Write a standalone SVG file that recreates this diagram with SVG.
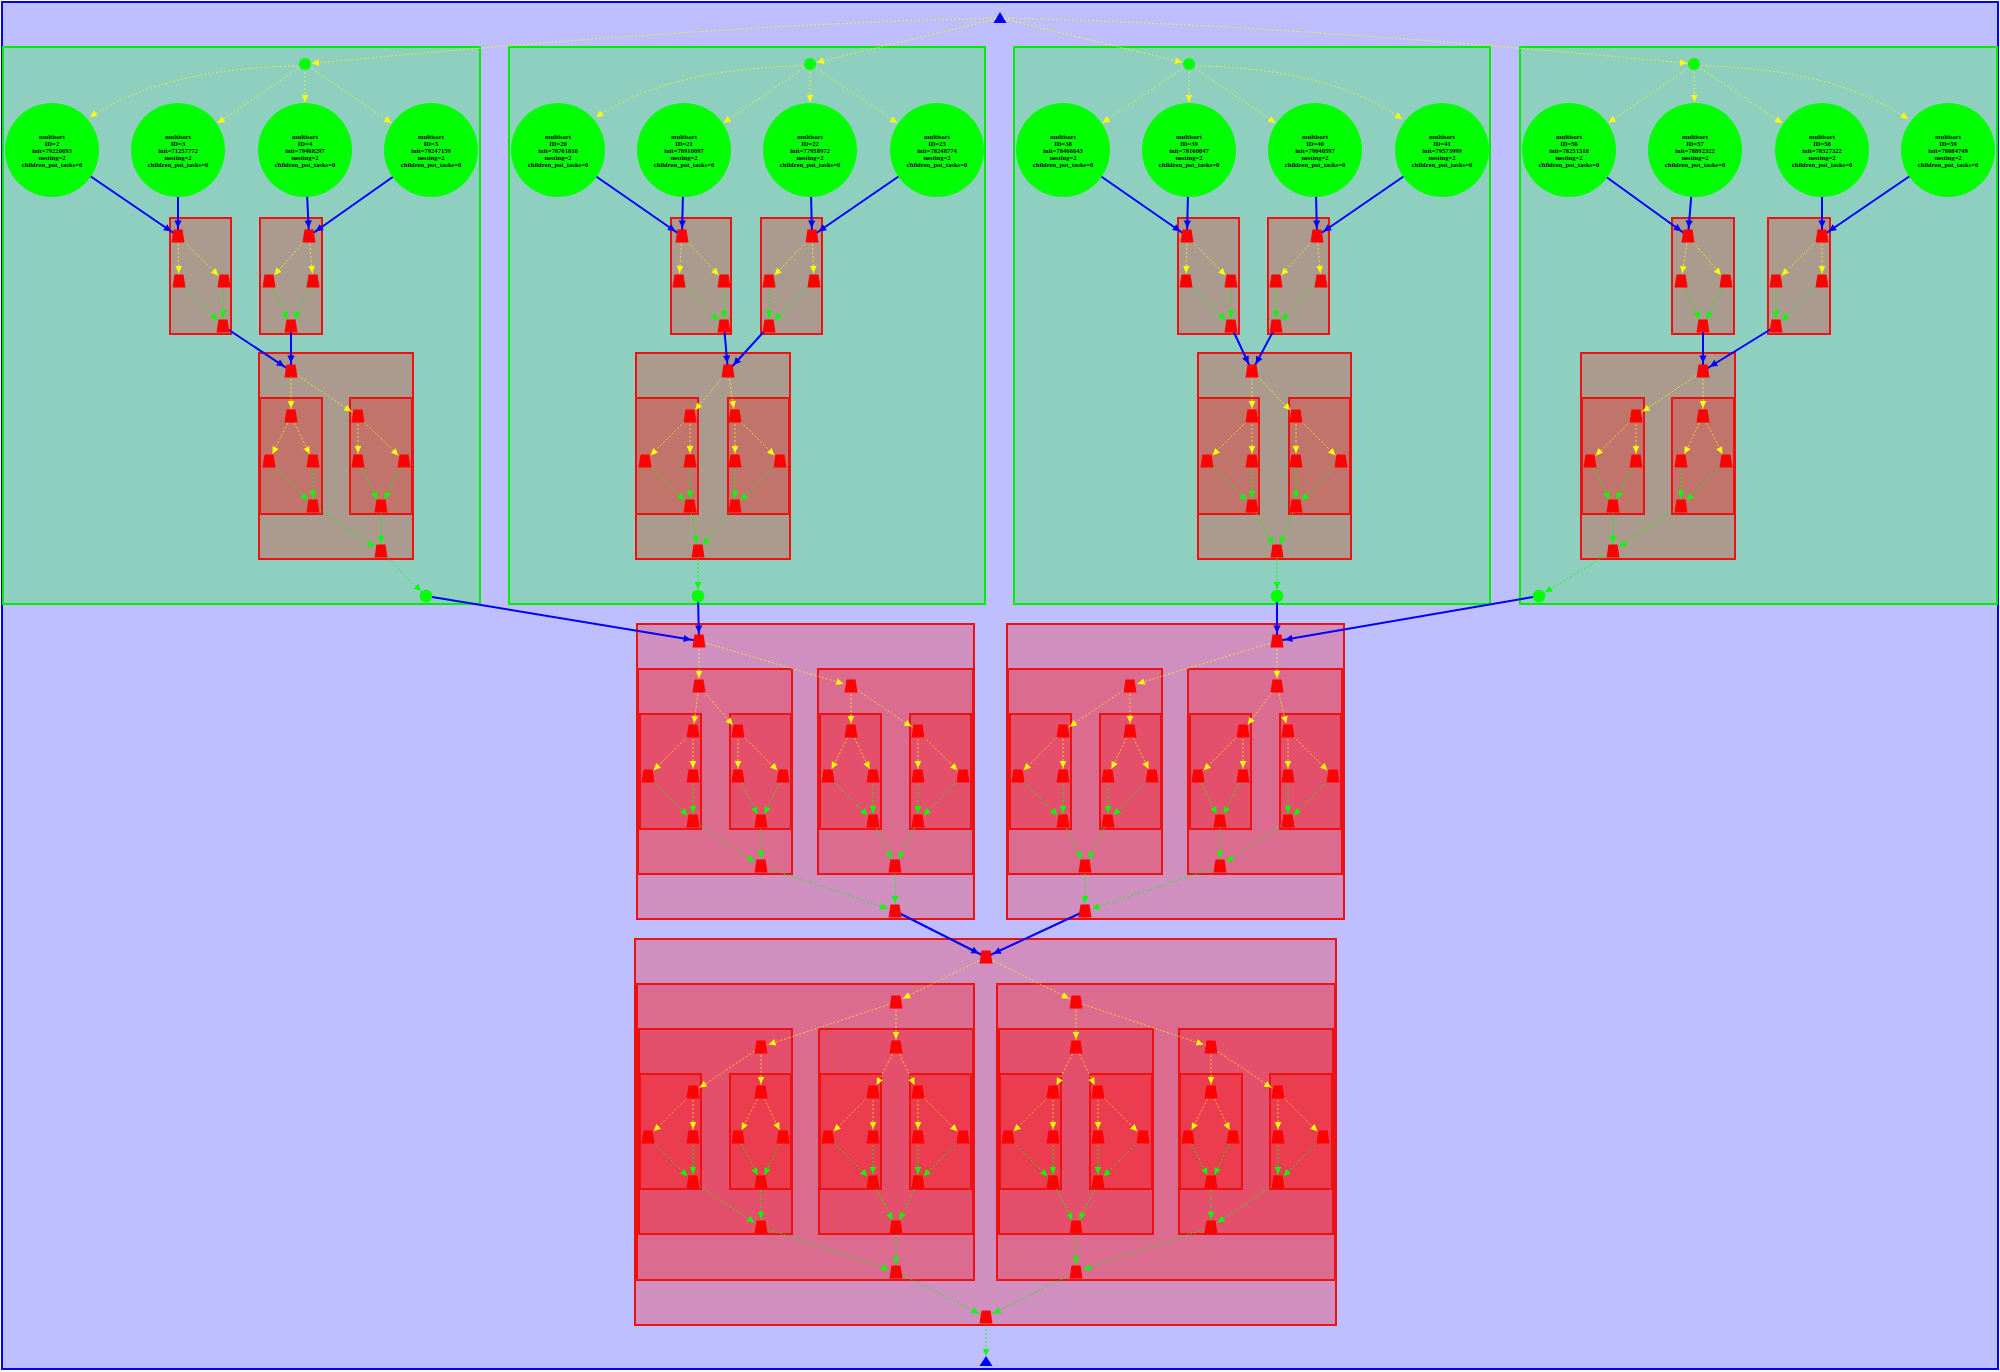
<svg xmlns="http://www.w3.org/2000/svg" xmlns:xlink="http://www.w3.org/1999/xlink" width="2000" height="1372" viewBox="0 0 2000 1372">
<style>
.cg{fill:#00ff00;fill-opacity:.25;stroke:#00ee00;stroke-width:2}
.cr{fill:#ff0000;fill-opacity:.25;stroke:#ee1111;stroke-width:2}
.ey{stroke:#ffff00;stroke-opacity:.7;stroke-width:1;stroke-dasharray:2,2;fill:none;marker-end:url(#my)}
.ey0{stroke:#ffff00;stroke-opacity:.7;stroke-width:1;stroke-dasharray:2,2;fill:none;marker-end:url(#my0)}
.eyc{stroke:#ffff00;stroke-opacity:.7;stroke-width:1;stroke-dasharray:2,2;fill:none;marker-end:url(#my48)}
.eyb{stroke:#ffff00;stroke-opacity:.7;stroke-width:1;stroke-dasharray:2,2;fill:none;marker-end:url(#my7)}
.eg{stroke:#00ff00;stroke-opacity:.85;stroke-width:1;stroke-dasharray:2,2;fill:none;marker-end:url(#mg)}
.egb{stroke:#00ff00;stroke-opacity:.85;stroke-width:1;stroke-dasharray:2,2;fill:none;marker-end:url(#mg7)}
.eg0{stroke:#00ff00;stroke-opacity:.85;stroke-width:1;stroke-dasharray:2,2;fill:none;marker-end:url(#mg0)}
.eb{stroke:#0000ff;stroke-width:2;fill:none;marker-end:url(#mb)}
.ball{fill:#00ff00}
.big{fill:#00ff00}
.ct{font-family:"Liberation Serif","Times New Roman",serif;font-size:6.6px;font-weight:bold;text-anchor:middle;fill:#000}
</style>
<defs>
<polygon id="tz" points="-4.5,-6.5 4.5,-6.5 6.5,6.5 -6.5,6.5" fill="#ff0000"/>
<marker id="my" markerUnits="userSpaceOnUse" markerWidth="1" markerHeight="1" orient="auto" overflow="visible" style="overflow:visible"><path d="M-15,-3.3 L-8,0 L-15,3.3 Z" fill="#ffff00"/></marker>
<marker id="my0" markerUnits="userSpaceOnUse" markerWidth="1" markerHeight="1" orient="auto" overflow="visible" style="overflow:visible"><path d="M-7,-3.3 L0,0 L-7,3.3 Z" fill="#ffff00"/></marker>
<marker id="my7" markerUnits="userSpaceOnUse" markerWidth="1" markerHeight="1" orient="auto" overflow="visible" style="overflow:visible"><path d="M-14,-3.3 L-7,0 L-14,3.3 Z" fill="#ffff00"/></marker>
<marker id="my48" markerUnits="userSpaceOnUse" markerWidth="1" markerHeight="1" orient="auto" overflow="visible" style="overflow:visible"><path d="M-55,-3.3 L-48,0 L-55,3.3 Z" fill="#ffff00"/></marker>
<marker id="mg" markerUnits="userSpaceOnUse" markerWidth="1" markerHeight="1" orient="auto" overflow="visible" style="overflow:visible"><path d="M-15,-3.3 L-8,0 L-15,3.3 Z" fill="#00ff00"/></marker>
<marker id="mg7" markerUnits="userSpaceOnUse" markerWidth="1" markerHeight="1" orient="auto" overflow="visible" style="overflow:visible"><path d="M-14,-3.3 L-7,0 L-14,3.3 Z" fill="#00ff00"/></marker>
<marker id="mg0" markerUnits="userSpaceOnUse" markerWidth="1" markerHeight="1" orient="auto" overflow="visible" style="overflow:visible"><path d="M-7,-3.3 L0,0 L-7,3.3 Z" fill="#00ff00"/></marker>
<marker id="mb" markerUnits="userSpaceOnUse" markerWidth="1" markerHeight="1" orient="auto" overflow="visible" style="overflow:visible"><path d="M-15.5,-3.6 L-8,0 L-15.5,3.6 Z" fill="#0000ff"/></marker>
</defs>
<rect x="2" y="2" width="1996" height="1367" fill="#bfbfff" stroke="#0000ff" stroke-width="2"/>
<g id="clusters">
<rect class="cg" x="3" y="47" width="477" height="557"/>
<rect class="cg" x="509" y="47" width="476" height="557"/>
<rect class="cg" x="1014" y="47" width="476" height="557"/>
<rect class="cg" x="1520" y="47" width="477" height="557"/>
<rect class="cr" x="170" y="218" width="61" height="116"/>
<rect class="cr" x="260" y="218" width="62" height="116"/>
<rect class="cr" x="259" y="353" width="154" height="206"/>
<rect class="cr" x="260" y="398" width="62" height="116"/>
<rect class="cr" x="350" y="398" width="62" height="116"/>
<rect class="cr" x="671" y="218" width="60" height="116"/>
<rect class="cr" x="761" y="218" width="61" height="116"/>
<rect class="cr" x="636" y="353" width="154" height="206"/>
<rect class="cr" x="636" y="398" width="62" height="116"/>
<rect class="cr" x="728" y="398" width="61" height="116"/>
<rect class="cr" x="1178" y="218" width="61" height="116"/>
<rect class="cr" x="1268" y="218" width="61" height="116"/>
<rect class="cr" x="1198" y="353" width="153" height="206"/>
<rect class="cr" x="1198" y="398" width="61" height="116"/>
<rect class="cr" x="1289" y="398" width="61" height="116"/>
<rect class="cr" x="1672" y="218" width="62" height="116"/>
<rect class="cr" x="1768" y="218" width="62" height="116"/>
<rect class="cr" x="1581" y="353" width="154" height="206"/>
<rect class="cr" x="1582" y="398" width="62" height="116"/>
<rect class="cr" x="1672" y="398" width="62" height="116"/>
<rect class="cr" x="637" y="624" width="337" height="295"/>
<rect class="cr" x="638" y="669" width="154" height="205"/>
<rect class="cr" x="640" y="714" width="61" height="115"/>
<rect class="cr" x="730" y="714" width="61" height="115"/>
<rect class="cr" x="818" y="669" width="155" height="205"/>
<rect class="cr" x="820" y="714" width="61" height="115"/>
<rect class="cr" x="910" y="714" width="61" height="115"/>
<rect class="cr" x="1007" y="624" width="337" height="295"/>
<rect class="cr" x="1008" y="669" width="154" height="205"/>
<rect class="cr" x="1010" y="714" width="61" height="115"/>
<rect class="cr" x="1100" y="714" width="61" height="115"/>
<rect class="cr" x="1188" y="669" width="154" height="205"/>
<rect class="cr" x="1190" y="714" width="61" height="115"/>
<rect class="cr" x="1280" y="714" width="61" height="115"/>
<rect class="cr" x="635" y="939" width="701" height="386"/>
<rect class="cr" x="637" y="984" width="337" height="296"/>
<rect class="cr" x="639" y="1029" width="153" height="205"/>
<rect class="cr" x="640" y="1074" width="61" height="115"/>
<rect class="cr" x="730" y="1074" width="61" height="115"/>
<rect class="cr" x="819" y="1029" width="154" height="205"/>
<rect class="cr" x="820" y="1074" width="61" height="115"/>
<rect class="cr" x="910" y="1074" width="61" height="115"/>
<rect class="cr" x="997" y="984" width="338" height="296"/>
<rect class="cr" x="999" y="1029" width="154" height="205"/>
<rect class="cr" x="1000" y="1074" width="61" height="115"/>
<rect class="cr" x="1090" y="1074" width="62" height="115"/>
<rect class="cr" x="1179" y="1029" width="154" height="205"/>
<rect class="cr" x="1180" y="1074" width="62" height="115"/>
<rect class="cr" x="1270" y="1074" width="62" height="115"/>
</g>
<g id="connectors">
<path class="eyb" d="M1000,18 Q720,24 305,64"/>
<line class="eyb" x1="1000" y1="18" x2="810" y2="64"/>
<line class="eyb" x1="1000" y1="18" x2="1189" y2="64"/>
<path class="eyb" d="M1000,18 Q1280,24 1694,64"/>
<path class="ey0" d="M298,66 Q166,68 90,117"/>
<line class="eyc" x1="305" y1="64" x2="178" y2="150"/>
<line class="eyc" x1="305" y1="64" x2="305" y2="150"/>
<line class="eyc" x1="305" y1="64" x2="431" y2="150"/>
<line class="eb" x1="52" y1="150" x2="178" y2="236"/>
<line class="eb" x1="178" y1="150" x2="178" y2="236"/>
<line class="eb" x1="305" y1="150" x2="309" y2="236"/>
<line class="eb" x1="431" y1="150" x2="309" y2="236"/>
<line class="ey" x1="178" y1="236" x2="179" y2="281"/>
<line class="ey" x1="178" y1="236" x2="224" y2="281"/>
<line class="eg" x1="179" y1="281" x2="223" y2="326"/>
<line class="eg" x1="224" y1="281" x2="223" y2="326"/>
<line class="ey" x1="309" y1="236" x2="269" y2="281"/>
<line class="ey" x1="309" y1="236" x2="313" y2="281"/>
<line class="eg" x1="269" y1="281" x2="291" y2="326"/>
<line class="eg" x1="313" y1="281" x2="291" y2="326"/>
<line class="eb" x1="223" y1="326" x2="291" y2="371"/>
<line class="eb" x1="291" y1="326" x2="291" y2="371"/>
<line class="ey" x1="291" y1="371" x2="291" y2="416"/>
<line class="ey" x1="291" y1="371" x2="358" y2="416"/>
<line class="ey" x1="291" y1="416" x2="269" y2="461"/>
<line class="ey" x1="291" y1="416" x2="313" y2="461"/>
<line class="eg" x1="269" y1="461" x2="313" y2="506"/>
<line class="eg" x1="313" y1="461" x2="313" y2="506"/>
<line class="ey" x1="358" y1="416" x2="358" y2="461"/>
<line class="ey" x1="358" y1="416" x2="404" y2="461"/>
<line class="eg" x1="358" y1="461" x2="381" y2="506"/>
<line class="eg" x1="404" y1="461" x2="381" y2="506"/>
<line class="eg" x1="313" y1="506" x2="381" y2="551"/>
<line class="eg" x1="381" y1="506" x2="381" y2="551"/>
<line class="egb" x1="381" y1="551" x2="426" y2="596"/>
<line class="eb" x1="426" y1="596" x2="699" y2="641"/>
<path class="ey0" d="M803,66 Q671,68 596,117"/>
<line class="eyc" x1="810" y1="64" x2="684" y2="150"/>
<line class="eyc" x1="810" y1="64" x2="810" y2="150"/>
<line class="eyc" x1="810" y1="64" x2="937" y2="150"/>
<line class="eb" x1="558" y1="150" x2="682" y2="236"/>
<line class="eb" x1="684" y1="150" x2="682" y2="236"/>
<line class="eb" x1="810" y1="150" x2="812" y2="236"/>
<line class="eb" x1="937" y1="150" x2="812" y2="236"/>
<line class="ey" x1="682" y1="236" x2="679" y2="281"/>
<line class="ey" x1="682" y1="236" x2="724" y2="281"/>
<line class="eg" x1="679" y1="281" x2="724" y2="326"/>
<line class="eg" x1="724" y1="281" x2="724" y2="326"/>
<line class="ey" x1="812" y1="236" x2="769" y2="281"/>
<line class="ey" x1="812" y1="236" x2="814" y2="281"/>
<line class="eg" x1="769" y1="281" x2="769" y2="326"/>
<line class="eg" x1="814" y1="281" x2="769" y2="326"/>
<line class="eb" x1="724" y1="326" x2="728" y2="371"/>
<line class="eb" x1="769" y1="326" x2="728" y2="371"/>
<line class="ey" x1="728" y1="371" x2="690" y2="416"/>
<line class="ey" x1="728" y1="371" x2="735" y2="416"/>
<line class="ey" x1="690" y1="416" x2="645" y2="461"/>
<line class="ey" x1="690" y1="416" x2="690" y2="461"/>
<line class="eg" x1="645" y1="461" x2="690" y2="506"/>
<line class="eg" x1="690" y1="461" x2="690" y2="506"/>
<line class="ey" x1="735" y1="416" x2="735" y2="461"/>
<line class="ey" x1="735" y1="416" x2="780" y2="461"/>
<line class="eg" x1="735" y1="461" x2="735" y2="506"/>
<line class="eg" x1="780" y1="461" x2="735" y2="506"/>
<line class="eg" x1="690" y1="506" x2="698" y2="551"/>
<line class="eg" x1="735" y1="506" x2="698" y2="551"/>
<line class="egb" x1="698" y1="551" x2="698" y2="596"/>
<line class="eb" x1="698" y1="596" x2="699" y2="641"/>
<line class="eyc" x1="1189" y1="64" x2="1063" y2="150"/>
<line class="eyc" x1="1189" y1="64" x2="1189" y2="150"/>
<line class="eyc" x1="1189" y1="64" x2="1315" y2="150"/>
<path class="ey0" d="M1196,66 Q1328,68 1402,119"/>
<line class="eb" x1="1063" y1="150" x2="1187" y2="236"/>
<line class="eb" x1="1189" y1="150" x2="1187" y2="236"/>
<line class="eb" x1="1315" y1="150" x2="1317" y2="236"/>
<line class="eb" x1="1442" y1="150" x2="1317" y2="236"/>
<line class="ey" x1="1187" y1="236" x2="1186" y2="281"/>
<line class="ey" x1="1187" y1="236" x2="1231" y2="281"/>
<line class="eg" x1="1186" y1="281" x2="1231" y2="326"/>
<line class="eg" x1="1231" y1="281" x2="1231" y2="326"/>
<line class="ey" x1="1317" y1="236" x2="1276" y2="281"/>
<line class="ey" x1="1317" y1="236" x2="1321" y2="281"/>
<line class="eg" x1="1276" y1="281" x2="1276" y2="326"/>
<line class="eg" x1="1321" y1="281" x2="1276" y2="326"/>
<line class="eb" x1="1231" y1="326" x2="1252" y2="371"/>
<line class="eb" x1="1276" y1="326" x2="1252" y2="371"/>
<line class="ey" x1="1252" y1="371" x2="1252" y2="416"/>
<line class="ey" x1="1252" y1="371" x2="1296" y2="416"/>
<line class="ey" x1="1252" y1="416" x2="1207" y2="461"/>
<line class="ey" x1="1252" y1="416" x2="1252" y2="461"/>
<line class="eg" x1="1207" y1="461" x2="1252" y2="506"/>
<line class="eg" x1="1252" y1="461" x2="1252" y2="506"/>
<line class="ey" x1="1296" y1="416" x2="1296" y2="461"/>
<line class="ey" x1="1296" y1="416" x2="1341" y2="461"/>
<line class="eg" x1="1296" y1="461" x2="1296" y2="506"/>
<line class="eg" x1="1341" y1="461" x2="1296" y2="506"/>
<line class="eg" x1="1252" y1="506" x2="1277" y2="551"/>
<line class="eg" x1="1296" y1="506" x2="1277" y2="551"/>
<line class="egb" x1="1277" y1="551" x2="1277" y2="596"/>
<line class="eb" x1="1277" y1="596" x2="1277" y2="641"/>
<line class="eyc" x1="1694" y1="64" x2="1569" y2="150"/>
<line class="eyc" x1="1694" y1="64" x2="1695" y2="150"/>
<line class="eyc" x1="1694" y1="64" x2="1822" y2="150"/>
<path class="ey0" d="M1701,66 Q1833,68 1908,119"/>
<line class="eb" x1="1569" y1="150" x2="1688" y2="236"/>
<line class="eb" x1="1695" y1="150" x2="1688" y2="236"/>
<line class="eb" x1="1822" y1="150" x2="1822" y2="236"/>
<line class="eb" x1="1948" y1="150" x2="1822" y2="236"/>
<line class="ey" x1="1688" y1="236" x2="1681" y2="281"/>
<line class="ey" x1="1688" y1="236" x2="1726" y2="281"/>
<line class="eg" x1="1681" y1="281" x2="1703" y2="326"/>
<line class="eg" x1="1726" y1="281" x2="1703" y2="326"/>
<line class="ey" x1="1822" y1="236" x2="1776" y2="281"/>
<line class="ey" x1="1822" y1="236" x2="1822" y2="281"/>
<line class="eg" x1="1776" y1="281" x2="1776" y2="326"/>
<line class="eg" x1="1822" y1="281" x2="1776" y2="326"/>
<line class="eb" x1="1703" y1="326" x2="1703" y2="371"/>
<line class="eb" x1="1776" y1="326" x2="1703" y2="371"/>
<line class="ey" x1="1703" y1="371" x2="1636" y2="416"/>
<line class="ey" x1="1703" y1="371" x2="1703" y2="416"/>
<line class="ey" x1="1636" y1="416" x2="1590" y2="461"/>
<line class="ey" x1="1636" y1="416" x2="1636" y2="461"/>
<line class="eg" x1="1590" y1="461" x2="1613" y2="506"/>
<line class="eg" x1="1636" y1="461" x2="1613" y2="506"/>
<line class="ey" x1="1703" y1="416" x2="1681" y2="461"/>
<line class="ey" x1="1703" y1="416" x2="1726" y2="461"/>
<line class="eg" x1="1681" y1="461" x2="1681" y2="506"/>
<line class="eg" x1="1726" y1="461" x2="1681" y2="506"/>
<line class="eg" x1="1613" y1="506" x2="1613" y2="551"/>
<line class="eg" x1="1681" y1="506" x2="1613" y2="551"/>
<line class="egb" x1="1613" y1="551" x2="1539" y2="596"/>
<line class="eb" x1="1539" y1="596" x2="1277" y2="641"/>
<line class="ey" x1="699" y1="641" x2="699" y2="686"/>
<line class="ey" x1="699" y1="641" x2="851" y2="686"/>
<line class="ey" x1="699" y1="686" x2="693" y2="731"/>
<line class="ey" x1="699" y1="686" x2="738" y2="731"/>
<line class="ey" x1="693" y1="731" x2="648" y2="776"/>
<line class="ey" x1="693" y1="731" x2="693" y2="776"/>
<line class="eg" x1="648" y1="776" x2="693" y2="821"/>
<line class="eg" x1="693" y1="776" x2="693" y2="821"/>
<line class="ey" x1="738" y1="731" x2="738" y2="776"/>
<line class="ey" x1="738" y1="731" x2="783" y2="776"/>
<line class="eg" x1="738" y1="776" x2="761" y2="821"/>
<line class="eg" x1="783" y1="776" x2="761" y2="821"/>
<line class="eg" x1="693" y1="821" x2="761" y2="866"/>
<line class="eg" x1="761" y1="821" x2="761" y2="866"/>
<line class="ey" x1="851" y1="686" x2="851" y2="731"/>
<line class="ey" x1="851" y1="686" x2="918" y2="731"/>
<line class="ey" x1="851" y1="731" x2="828" y2="776"/>
<line class="ey" x1="851" y1="731" x2="873" y2="776"/>
<line class="eg" x1="828" y1="776" x2="873" y2="821"/>
<line class="eg" x1="873" y1="776" x2="873" y2="821"/>
<line class="ey" x1="918" y1="731" x2="918" y2="776"/>
<line class="ey" x1="918" y1="731" x2="963" y2="776"/>
<line class="eg" x1="918" y1="776" x2="918" y2="821"/>
<line class="eg" x1="963" y1="776" x2="918" y2="821"/>
<line class="eg" x1="873" y1="821" x2="895" y2="866"/>
<line class="eg" x1="918" y1="821" x2="895" y2="866"/>
<line class="eg" x1="761" y1="866" x2="895" y2="911"/>
<line class="eg" x1="895" y1="866" x2="895" y2="911"/>
<line class="eb" x1="895" y1="911" x2="986" y2="957"/>
<line class="ey" x1="1277" y1="641" x2="1130" y2="686"/>
<line class="ey" x1="1277" y1="641" x2="1277" y2="686"/>
<line class="ey" x1="1130" y1="686" x2="1063" y2="731"/>
<line class="ey" x1="1130" y1="686" x2="1130" y2="731"/>
<line class="ey" x1="1063" y1="731" x2="1018" y2="776"/>
<line class="ey" x1="1063" y1="731" x2="1063" y2="776"/>
<line class="eg" x1="1018" y1="776" x2="1063" y2="821"/>
<line class="eg" x1="1063" y1="776" x2="1063" y2="821"/>
<line class="ey" x1="1130" y1="731" x2="1108" y2="776"/>
<line class="ey" x1="1130" y1="731" x2="1152" y2="776"/>
<line class="eg" x1="1108" y1="776" x2="1108" y2="821"/>
<line class="eg" x1="1152" y1="776" x2="1108" y2="821"/>
<line class="eg" x1="1063" y1="821" x2="1085" y2="866"/>
<line class="eg" x1="1108" y1="821" x2="1085" y2="866"/>
<line class="ey" x1="1277" y1="686" x2="1243" y2="731"/>
<line class="ey" x1="1277" y1="686" x2="1288" y2="731"/>
<line class="ey" x1="1243" y1="731" x2="1198" y2="776"/>
<line class="ey" x1="1243" y1="731" x2="1243" y2="776"/>
<line class="eg" x1="1198" y1="776" x2="1220" y2="821"/>
<line class="eg" x1="1243" y1="776" x2="1220" y2="821"/>
<line class="ey" x1="1288" y1="731" x2="1288" y2="776"/>
<line class="ey" x1="1288" y1="731" x2="1333" y2="776"/>
<line class="eg" x1="1288" y1="776" x2="1288" y2="821"/>
<line class="eg" x1="1333" y1="776" x2="1288" y2="821"/>
<line class="eg" x1="1220" y1="821" x2="1220" y2="866"/>
<line class="eg" x1="1288" y1="821" x2="1220" y2="866"/>
<line class="eg" x1="1085" y1="866" x2="1085" y2="911"/>
<line class="eg" x1="1220" y1="866" x2="1085" y2="911"/>
<line class="eb" x1="1085" y1="911" x2="986" y2="957"/>
<line class="ey" x1="986" y1="957" x2="896" y2="1002"/>
<line class="ey" x1="986" y1="957" x2="1076" y2="1002"/>
<line class="ey" x1="896" y1="1002" x2="761" y2="1047"/>
<line class="ey" x1="896" y1="1002" x2="896" y2="1047"/>
<line class="ey" x1="761" y1="1047" x2="693" y2="1092"/>
<line class="ey" x1="761" y1="1047" x2="761" y2="1092"/>
<line class="ey" x1="693" y1="1092" x2="648" y2="1137"/>
<line class="ey" x1="693" y1="1092" x2="693" y2="1137"/>
<line class="eg" x1="648" y1="1137" x2="693" y2="1182"/>
<line class="eg" x1="693" y1="1137" x2="693" y2="1182"/>
<line class="ey" x1="761" y1="1092" x2="738" y2="1137"/>
<line class="ey" x1="761" y1="1092" x2="783" y2="1137"/>
<line class="eg" x1="738" y1="1137" x2="761" y2="1182"/>
<line class="eg" x1="783" y1="1137" x2="761" y2="1182"/>
<line class="eg" x1="693" y1="1182" x2="761" y2="1227"/>
<line class="eg" x1="761" y1="1182" x2="761" y2="1227"/>
<line class="ey" x1="896" y1="1047" x2="873" y2="1092"/>
<line class="ey" x1="896" y1="1047" x2="918" y2="1092"/>
<line class="ey" x1="873" y1="1092" x2="828" y2="1137"/>
<line class="ey" x1="873" y1="1092" x2="873" y2="1137"/>
<line class="eg" x1="828" y1="1137" x2="873" y2="1182"/>
<line class="eg" x1="873" y1="1137" x2="873" y2="1182"/>
<line class="ey" x1="918" y1="1092" x2="918" y2="1137"/>
<line class="ey" x1="918" y1="1092" x2="963" y2="1137"/>
<line class="eg" x1="918" y1="1137" x2="918" y2="1182"/>
<line class="eg" x1="963" y1="1137" x2="918" y2="1182"/>
<line class="eg" x1="873" y1="1182" x2="896" y2="1227"/>
<line class="eg" x1="918" y1="1182" x2="896" y2="1227"/>
<line class="eg" x1="761" y1="1227" x2="896" y2="1272"/>
<line class="eg" x1="896" y1="1227" x2="896" y2="1272"/>
<line class="ey" x1="1076" y1="1002" x2="1076" y2="1047"/>
<line class="ey" x1="1076" y1="1002" x2="1211" y2="1047"/>
<line class="ey" x1="1076" y1="1047" x2="1053" y2="1092"/>
<line class="ey" x1="1076" y1="1047" x2="1098" y2="1092"/>
<line class="ey" x1="1053" y1="1092" x2="1008" y2="1137"/>
<line class="ey" x1="1053" y1="1092" x2="1053" y2="1137"/>
<line class="eg" x1="1008" y1="1137" x2="1053" y2="1182"/>
<line class="eg" x1="1053" y1="1137" x2="1053" y2="1182"/>
<line class="ey" x1="1098" y1="1092" x2="1098" y2="1137"/>
<line class="ey" x1="1098" y1="1092" x2="1143" y2="1137"/>
<line class="eg" x1="1098" y1="1137" x2="1098" y2="1182"/>
<line class="eg" x1="1143" y1="1137" x2="1098" y2="1182"/>
<line class="eg" x1="1053" y1="1182" x2="1076" y2="1227"/>
<line class="eg" x1="1098" y1="1182" x2="1076" y2="1227"/>
<line class="ey" x1="1211" y1="1047" x2="1211" y2="1092"/>
<line class="ey" x1="1211" y1="1047" x2="1278" y2="1092"/>
<line class="ey" x1="1211" y1="1092" x2="1188" y2="1137"/>
<line class="ey" x1="1211" y1="1092" x2="1233" y2="1137"/>
<line class="eg" x1="1188" y1="1137" x2="1211" y2="1182"/>
<line class="eg" x1="1233" y1="1137" x2="1211" y2="1182"/>
<line class="ey" x1="1278" y1="1092" x2="1278" y2="1137"/>
<line class="ey" x1="1278" y1="1092" x2="1323" y2="1137"/>
<line class="eg" x1="1278" y1="1137" x2="1278" y2="1182"/>
<line class="eg" x1="1323" y1="1137" x2="1278" y2="1182"/>
<line class="eg" x1="1211" y1="1182" x2="1211" y2="1227"/>
<line class="eg" x1="1278" y1="1182" x2="1211" y2="1227"/>
<line class="eg" x1="1076" y1="1227" x2="1076" y2="1272"/>
<line class="eg" x1="1211" y1="1227" x2="1076" y2="1272"/>
<line class="eg" x1="896" y1="1272" x2="986" y2="1317"/>
<line class="eg" x1="1076" y1="1272" x2="986" y2="1317"/>
<line class="eg0" x1="986" y1="1317" x2="986" y2="1356"/>
</g>
<g id="nodes">
<g id="root"><polygon points="1000,12 993.5,23 1006.5,23" fill="#0000ff"/></g>
<g id="sink"><polygon points="986,1356 979.5,1366 992.5,1366" fill="#0000ff"/></g>
<g id="g1-ball"><circle class="ball" cx="305" cy="64" r="6"/></g>
<g id="g2-ball"><circle class="ball" cx="810" cy="64" r="6"/></g>
<g id="g3-ball"><circle class="ball" cx="1189" cy="64" r="6"/></g>
<g id="g4-ball"><circle class="ball" cx="1694" cy="64" r="6"/></g>
<g id="g1-out"><circle class="ball" cx="426" cy="596" r="6.3"/></g>
<g id="g2-out"><circle class="ball" cx="698" cy="596" r="6.3"/></g>
<g id="g3-out"><circle class="ball" cx="1277" cy="596" r="6.3"/></g>
<g id="g4-out"><circle class="ball" cx="1539" cy="596" r="6.3"/></g>
<g id="task2"><circle class="big" cx="52" cy="150" r="47"/><text class="ct" x="52" y="138.5">multisort<tspan x="52" dy="7">ID=2</tspan><tspan x="52" dy="7">init=79220693</tspan><tspan x="52" dy="7">nesting=2</tspan><tspan x="52" dy="7">children_pot_tasks=0</tspan></text></g>
<g id="task3"><circle class="big" cx="178" cy="150" r="47"/><text class="ct" x="178" y="138.5">multisort<tspan x="178" dy="7">ID=3</tspan><tspan x="178" dy="7">init=71257772</tspan><tspan x="178" dy="7">nesting=2</tspan><tspan x="178" dy="7">children_pot_tasks=0</tspan></text></g>
<g id="task4"><circle class="big" cx="305" cy="150" r="47"/><text class="ct" x="305" y="138.5">multisort<tspan x="305" dy="7">ID=4</tspan><tspan x="305" dy="7">init=79468297</tspan><tspan x="305" dy="7">nesting=2</tspan><tspan x="305" dy="7">children_pot_tasks=0</tspan></text></g>
<g id="task5"><circle class="big" cx="431" cy="150" r="47"/><text class="ct" x="431" y="138.5">multisort<tspan x="431" dy="7">ID=5</tspan><tspan x="431" dy="7">init=79247159</tspan><tspan x="431" dy="7">nesting=2</tspan><tspan x="431" dy="7">children_pot_tasks=0</tspan></text></g>
<g id="task20"><circle class="big" cx="558" cy="150" r="47"/><text class="ct" x="558" y="138.5">multisort<tspan x="558" dy="7">ID=20</tspan><tspan x="558" dy="7">init=78761818</tspan><tspan x="558" dy="7">nesting=2</tspan><tspan x="558" dy="7">children_pot_tasks=0</tspan></text></g>
<g id="task21"><circle class="big" cx="684" cy="150" r="47"/><text class="ct" x="684" y="138.5">multisort<tspan x="684" dy="7">ID=21</tspan><tspan x="684" dy="7">init=78910097</tspan><tspan x="684" dy="7">nesting=2</tspan><tspan x="684" dy="7">children_pot_tasks=0</tspan></text></g>
<g id="task22"><circle class="big" cx="810" cy="150" r="47"/><text class="ct" x="810" y="138.5">multisort<tspan x="810" dy="7">ID=22</tspan><tspan x="810" dy="7">init=77958972</tspan><tspan x="810" dy="7">nesting=2</tspan><tspan x="810" dy="7">children_pot_tasks=0</tspan></text></g>
<g id="task23"><circle class="big" cx="937" cy="150" r="47"/><text class="ct" x="937" y="138.5">multisort<tspan x="937" dy="7">ID=23</tspan><tspan x="937" dy="7">init=78248774</tspan><tspan x="937" dy="7">nesting=2</tspan><tspan x="937" dy="7">children_pot_tasks=0</tspan></text></g>
<g id="task38"><circle class="big" cx="1063" cy="150" r="47"/><text class="ct" x="1063" y="138.5">multisort<tspan x="1063" dy="7">ID=38</tspan><tspan x="1063" dy="7">init=78466643</tspan><tspan x="1063" dy="7">nesting=2</tspan><tspan x="1063" dy="7">children_pot_tasks=0</tspan></text></g>
<g id="task39"><circle class="big" cx="1189" cy="150" r="47"/><text class="ct" x="1189" y="138.5">multisort<tspan x="1189" dy="7">ID=39</tspan><tspan x="1189" dy="7">init=78160047</tspan><tspan x="1189" dy="7">nesting=2</tspan><tspan x="1189" dy="7">children_pot_tasks=0</tspan></text></g>
<g id="task40"><circle class="big" cx="1315" cy="150" r="47"/><text class="ct" x="1315" y="138.5">multisort<tspan x="1315" dy="7">ID=40</tspan><tspan x="1315" dy="7">init=79040597</tspan><tspan x="1315" dy="7">nesting=2</tspan><tspan x="1315" dy="7">children_pot_tasks=0</tspan></text></g>
<g id="task41"><circle class="big" cx="1442" cy="150" r="47"/><text class="ct" x="1442" y="138.5">multisort<tspan x="1442" dy="7">ID=41</tspan><tspan x="1442" dy="7">init=79573999</tspan><tspan x="1442" dy="7">nesting=2</tspan><tspan x="1442" dy="7">children_pot_tasks=0</tspan></text></g>
<g id="task56"><circle class="big" cx="1569" cy="150" r="47"/><text class="ct" x="1569" y="138.5">multisort<tspan x="1569" dy="7">ID=56</tspan><tspan x="1569" dy="7">init=78251518</tspan><tspan x="1569" dy="7">nesting=2</tspan><tspan x="1569" dy="7">children_pot_tasks=0</tspan></text></g>
<g id="task57"><circle class="big" cx="1695" cy="150" r="47"/><text class="ct" x="1695" y="138.5">multisort<tspan x="1695" dy="7">ID=57</tspan><tspan x="1695" dy="7">init=78892322</tspan><tspan x="1695" dy="7">nesting=2</tspan><tspan x="1695" dy="7">children_pot_tasks=0</tspan></text></g>
<g id="task58"><circle class="big" cx="1822" cy="150" r="47"/><text class="ct" x="1822" y="138.5">multisort<tspan x="1822" dy="7">ID=58</tspan><tspan x="1822" dy="7">init=78327322</tspan><tspan x="1822" dy="7">nesting=2</tspan><tspan x="1822" dy="7">children_pot_tasks=0</tspan></text></g>
<g id="task59"><circle class="big" cx="1948" cy="150" r="47"/><text class="ct" x="1948" y="138.5">multisort<tspan x="1948" dy="7">ID=59</tspan><tspan x="1948" dy="7">init=78084749</tspan><tspan x="1948" dy="7">nesting=2</tspan><tspan x="1948" dy="7">children_pot_tasks=0</tspan></text></g>
<g id="n1"><use href="#tz" x="178" y="236"/></g>
<g id="n2"><use href="#tz" x="179" y="281"/></g>
<g id="n3"><use href="#tz" x="224" y="281"/></g>
<g id="n4"><use href="#tz" x="223" y="326"/></g>
<g id="n5"><use href="#tz" x="309" y="236"/></g>
<g id="n6"><use href="#tz" x="269" y="281"/></g>
<g id="n7"><use href="#tz" x="313" y="281"/></g>
<g id="n8"><use href="#tz" x="291" y="326"/></g>
<g id="n9"><use href="#tz" x="291" y="371"/></g>
<g id="n10"><use href="#tz" x="291" y="416"/></g>
<g id="n11"><use href="#tz" x="269" y="461"/></g>
<g id="n12"><use href="#tz" x="313" y="461"/></g>
<g id="n13"><use href="#tz" x="313" y="506"/></g>
<g id="n14"><use href="#tz" x="358" y="416"/></g>
<g id="n15"><use href="#tz" x="358" y="461"/></g>
<g id="n16"><use href="#tz" x="404" y="461"/></g>
<g id="n17"><use href="#tz" x="381" y="506"/></g>
<g id="n18"><use href="#tz" x="381" y="551"/></g>
<g id="n21"><use href="#tz" x="682" y="236"/></g>
<g id="n22"><use href="#tz" x="679" y="281"/></g>
<g id="n23"><use href="#tz" x="724" y="281"/></g>
<g id="n24"><use href="#tz" x="724" y="326"/></g>
<g id="n25"><use href="#tz" x="812" y="236"/></g>
<g id="n26"><use href="#tz" x="769" y="281"/></g>
<g id="n27"><use href="#tz" x="814" y="281"/></g>
<g id="n28"><use href="#tz" x="769" y="326"/></g>
<g id="n29"><use href="#tz" x="728" y="371"/></g>
<g id="n30"><use href="#tz" x="690" y="416"/></g>
<g id="n31"><use href="#tz" x="645" y="461"/></g>
<g id="n32"><use href="#tz" x="690" y="461"/></g>
<g id="n33"><use href="#tz" x="690" y="506"/></g>
<g id="n34"><use href="#tz" x="735" y="416"/></g>
<g id="n35"><use href="#tz" x="735" y="461"/></g>
<g id="n36"><use href="#tz" x="780" y="461"/></g>
<g id="n37"><use href="#tz" x="735" y="506"/></g>
<g id="n38"><use href="#tz" x="698" y="551"/></g>
<g id="n41"><use href="#tz" x="1187" y="236"/></g>
<g id="n42"><use href="#tz" x="1186" y="281"/></g>
<g id="n43"><use href="#tz" x="1231" y="281"/></g>
<g id="n44"><use href="#tz" x="1231" y="326"/></g>
<g id="n45"><use href="#tz" x="1317" y="236"/></g>
<g id="n46"><use href="#tz" x="1276" y="281"/></g>
<g id="n47"><use href="#tz" x="1321" y="281"/></g>
<g id="n48"><use href="#tz" x="1276" y="326"/></g>
<g id="n49"><use href="#tz" x="1252" y="371"/></g>
<g id="n50"><use href="#tz" x="1252" y="416"/></g>
<g id="n51"><use href="#tz" x="1207" y="461"/></g>
<g id="n52"><use href="#tz" x="1252" y="461"/></g>
<g id="n53"><use href="#tz" x="1252" y="506"/></g>
<g id="n54"><use href="#tz" x="1296" y="416"/></g>
<g id="n55"><use href="#tz" x="1296" y="461"/></g>
<g id="n56"><use href="#tz" x="1341" y="461"/></g>
<g id="n57"><use href="#tz" x="1296" y="506"/></g>
<g id="n58"><use href="#tz" x="1277" y="551"/></g>
<g id="n61"><use href="#tz" x="1688" y="236"/></g>
<g id="n62"><use href="#tz" x="1681" y="281"/></g>
<g id="n63"><use href="#tz" x="1726" y="281"/></g>
<g id="n64"><use href="#tz" x="1703" y="326"/></g>
<g id="n65"><use href="#tz" x="1822" y="236"/></g>
<g id="n66"><use href="#tz" x="1776" y="281"/></g>
<g id="n67"><use href="#tz" x="1822" y="281"/></g>
<g id="n68"><use href="#tz" x="1776" y="326"/></g>
<g id="n69"><use href="#tz" x="1703" y="371"/></g>
<g id="n70"><use href="#tz" x="1636" y="416"/></g>
<g id="n71"><use href="#tz" x="1590" y="461"/></g>
<g id="n72"><use href="#tz" x="1636" y="461"/></g>
<g id="n73"><use href="#tz" x="1613" y="506"/></g>
<g id="n74"><use href="#tz" x="1703" y="416"/></g>
<g id="n75"><use href="#tz" x="1681" y="461"/></g>
<g id="n76"><use href="#tz" x="1726" y="461"/></g>
<g id="n77"><use href="#tz" x="1681" y="506"/></g>
<g id="n78"><use href="#tz" x="1613" y="551"/></g>
<g id="m1"><use href="#tz" x="699" y="641"/></g>
<g id="m2"><use href="#tz" x="699" y="686"/></g>
<g id="m3"><use href="#tz" x="693" y="731"/></g>
<g id="m4"><use href="#tz" x="648" y="776"/></g>
<g id="m5"><use href="#tz" x="693" y="776"/></g>
<g id="m6"><use href="#tz" x="693" y="821"/></g>
<g id="m7"><use href="#tz" x="738" y="731"/></g>
<g id="m8"><use href="#tz" x="738" y="776"/></g>
<g id="m9"><use href="#tz" x="783" y="776"/></g>
<g id="m10"><use href="#tz" x="761" y="821"/></g>
<g id="m11"><use href="#tz" x="761" y="866"/></g>
<g id="m12"><use href="#tz" x="851" y="686"/></g>
<g id="m13"><use href="#tz" x="851" y="731"/></g>
<g id="m14"><use href="#tz" x="828" y="776"/></g>
<g id="m15"><use href="#tz" x="873" y="776"/></g>
<g id="m16"><use href="#tz" x="873" y="821"/></g>
<g id="m17"><use href="#tz" x="918" y="731"/></g>
<g id="m18"><use href="#tz" x="918" y="776"/></g>
<g id="m19"><use href="#tz" x="963" y="776"/></g>
<g id="m20"><use href="#tz" x="918" y="821"/></g>
<g id="m21"><use href="#tz" x="895" y="866"/></g>
<g id="m22"><use href="#tz" x="895" y="911"/></g>
<g id="m31"><use href="#tz" x="1277" y="641"/></g>
<g id="m32"><use href="#tz" x="1130" y="686"/></g>
<g id="m33"><use href="#tz" x="1063" y="731"/></g>
<g id="m34"><use href="#tz" x="1018" y="776"/></g>
<g id="m35"><use href="#tz" x="1063" y="776"/></g>
<g id="m36"><use href="#tz" x="1063" y="821"/></g>
<g id="m37"><use href="#tz" x="1130" y="731"/></g>
<g id="m38"><use href="#tz" x="1108" y="776"/></g>
<g id="m39"><use href="#tz" x="1152" y="776"/></g>
<g id="m40"><use href="#tz" x="1108" y="821"/></g>
<g id="m41"><use href="#tz" x="1085" y="866"/></g>
<g id="m42"><use href="#tz" x="1277" y="686"/></g>
<g id="m43"><use href="#tz" x="1243" y="731"/></g>
<g id="m44"><use href="#tz" x="1198" y="776"/></g>
<g id="m45"><use href="#tz" x="1243" y="776"/></g>
<g id="m46"><use href="#tz" x="1220" y="821"/></g>
<g id="m47"><use href="#tz" x="1288" y="731"/></g>
<g id="m48"><use href="#tz" x="1288" y="776"/></g>
<g id="m49"><use href="#tz" x="1333" y="776"/></g>
<g id="m50"><use href="#tz" x="1288" y="821"/></g>
<g id="m51"><use href="#tz" x="1220" y="866"/></g>
<g id="m52"><use href="#tz" x="1085" y="911"/></g>
<g id="b1"><use href="#tz" x="986" y="957"/></g>
<g id="b2"><use href="#tz" x="896" y="1002"/></g>
<g id="b3"><use href="#tz" x="761" y="1047"/></g>
<g id="b4"><use href="#tz" x="693" y="1092"/></g>
<g id="b5"><use href="#tz" x="648" y="1137"/></g>
<g id="b6"><use href="#tz" x="693" y="1137"/></g>
<g id="b7"><use href="#tz" x="693" y="1182"/></g>
<g id="b8"><use href="#tz" x="761" y="1092"/></g>
<g id="b9"><use href="#tz" x="738" y="1137"/></g>
<g id="b10"><use href="#tz" x="783" y="1137"/></g>
<g id="b11"><use href="#tz" x="761" y="1182"/></g>
<g id="b12"><use href="#tz" x="761" y="1227"/></g>
<g id="b13"><use href="#tz" x="896" y="1047"/></g>
<g id="b14"><use href="#tz" x="873" y="1092"/></g>
<g id="b15"><use href="#tz" x="828" y="1137"/></g>
<g id="b16"><use href="#tz" x="873" y="1137"/></g>
<g id="b17"><use href="#tz" x="873" y="1182"/></g>
<g id="b18"><use href="#tz" x="918" y="1092"/></g>
<g id="b19"><use href="#tz" x="918" y="1137"/></g>
<g id="b20"><use href="#tz" x="963" y="1137"/></g>
<g id="b21"><use href="#tz" x="918" y="1182"/></g>
<g id="b22"><use href="#tz" x="896" y="1227"/></g>
<g id="b23"><use href="#tz" x="896" y="1272"/></g>
<g id="b24"><use href="#tz" x="1076" y="1002"/></g>
<g id="b25"><use href="#tz" x="1076" y="1047"/></g>
<g id="b26"><use href="#tz" x="1053" y="1092"/></g>
<g id="b27"><use href="#tz" x="1008" y="1137"/></g>
<g id="b28"><use href="#tz" x="1053" y="1137"/></g>
<g id="b29"><use href="#tz" x="1053" y="1182"/></g>
<g id="b30"><use href="#tz" x="1098" y="1092"/></g>
<g id="b31"><use href="#tz" x="1098" y="1137"/></g>
<g id="b32"><use href="#tz" x="1143" y="1137"/></g>
<g id="b33"><use href="#tz" x="1098" y="1182"/></g>
<g id="b34"><use href="#tz" x="1076" y="1227"/></g>
<g id="b35"><use href="#tz" x="1211" y="1047"/></g>
<g id="b36"><use href="#tz" x="1211" y="1092"/></g>
<g id="b37"><use href="#tz" x="1188" y="1137"/></g>
<g id="b38"><use href="#tz" x="1233" y="1137"/></g>
<g id="b39"><use href="#tz" x="1211" y="1182"/></g>
<g id="b40"><use href="#tz" x="1278" y="1092"/></g>
<g id="b41"><use href="#tz" x="1278" y="1137"/></g>
<g id="b42"><use href="#tz" x="1323" y="1137"/></g>
<g id="b43"><use href="#tz" x="1278" y="1182"/></g>
<g id="b44"><use href="#tz" x="1211" y="1227"/></g>
<g id="b45"><use href="#tz" x="1076" y="1272"/></g>
<g id="b46"><use href="#tz" x="986" y="1317"/></g>
</g>
</svg>
